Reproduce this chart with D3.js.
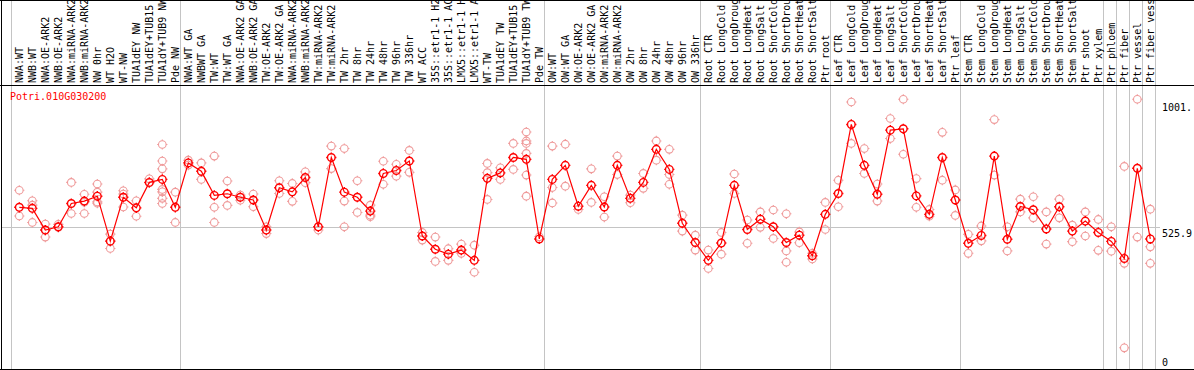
<!DOCTYPE html>
<html>
<head>
<meta charset="utf-8">
<script src="https://cdnjs.cloudflare.com/ajax/libs/d3/7.8.5/d3.min.js"></script>
<style>
body { margin: 0; background: #fff; }
#chart svg { display: block; }
.sampleLabel, .tickLabel, .geneTitle { font-family: "DejaVu Sans Mono", monospace; font-size: 10px; }
.sampleLabel, .tickLabel { fill: #000; }
.geneTitle { fill: #f00; }
.groupLine, .refLine { stroke: #c4c4c4; stroke-width: 1; }
.frame { stroke: #000; stroke-width: 1; }
.meanLine { fill: none; stroke: #f00; stroke-width: 1.2; }
.mean { fill: none; stroke: #f00; stroke-width: 1.4; }
.rep { fill: none; stroke: #ef9a9a; stroke-width: 1.1; }
</style>
</head>
<body>
<div id="chart"></div>
<script>
var geneId = "Potri.010G030200";

var sampleLabels = [
    "NWA:WT", "NWB:WT", "NWA:OE-ARK2", "NWB:OE-ARK2", "NWA:miRNA-ARK2", "NWB:miRNA-ARK2",
    "NW 0hr", "WT H2O", "WT-NW", "TUA1dEY NW", "TUA1dEY+TUB15 NW", "TUA1dY+TUB9 NW", "Pde NW",
    "NWA:WT GA", "NWBWT GA", "TW:WT", "TW:WT GA", "NWA:OE-ARK2 GA", "NWB:OE-ARK2 GA",
    "TW:OE-ARK2", "TW:OE-ARK2 GA", "NWA:miRNA-ARK2 GA", "NWB:miRNA-ARK2 GA", "TW:miRNA-ARK2",
    "TW:miRNA-ARK2 GA", "TW 2hr", "TW 8hr", "TW 24hr", "TW 48hr", "TW 96hr", "TW 336hr", "WT ACC",
    "35S::etr1-1 H2O", "35S::etr1-1 ACC", "LMX5::etr1-1 H2O", "LMX5::etr1-1 ACC", "WT-TW",
    "TUA1dEY TW", "TUA1dEY+TUB15 TW", "TUA1dY+TUB9 TW", "Pde TW",
    "OW:WT", "OW:WT GA", "OW:OE-ARK2", "OW:OE-ARK2 GA", "OW:miRNA-ARK2", "OW:miRNA-ARK2 GA",
    "OW 2hr", "OW 8hr", "OW 24hr", "OW 48hr", "OW 96hr", "OW 336hr",
    "Root CTR", "Root LongCold", "Root LongDrought", "Root LongHeat", "Root LongSalt",
    "Root ShortCold", "Root ShortDrought", "Root ShortHeat", "Root ShortSalt", "Ptr root",
    "Leaf CTR", "Leaf LongCold", "Leaf LongDrought", "Leaf LongHeat", "Leaf LongSalt",
    "Leaf ShortCold", "Leaf ShortDrought", "Leaf ShortHeat", "Leaf ShortSalt", "Ptr leaf",
    "Stem CTR", "Stem LongCold", "Stem LongDrought", "Stem LongHeat", "Stem LongSalt",
    "Stem ShortCold", "Stem ShortDrought", "Stem ShortHeat", "Stem ShortSalt", "Ptr shoot", "Ptr xylem",
    "Ptr phloem", "Ptr fiber", "Ptr vessel", "Ptr fiber vessel"
];

// index of the first sample of each group (last entry = end)
var groupBreaks = [0, 13, 41, 53, 63, 73, 84, 85, 86, 87, 88];

var meanValues = [
    601, 597, 517, 529, 615, 624, 642, 476, 638, 599, 693, 704, 601,
    765, 734, 645, 651, 638, 628, 517, 673, 658, 711, 529, 785, 657, 638, 587, 726, 737, 772,
    495, 446, 428, 443, 405, 708, 728, 785, 778, 484,
    704, 756, 605, 682, 602, 756, 634, 693, 815, 741, 542, 471,
    405, 469, 682, 519, 557, 529, 471, 498, 422, 575,
    652, 907, 756, 649, 886, 891, 643, 575, 785, 628,
    468, 497, 790, 483, 604, 592, 521, 603, 513, 550, 508,
    475, 412, 745, 484
];

var replicateValues = [
    [664, 569], [625, 609, 545], [539, 517, 491], [538, 527], [693, 578], [649, 578, 620],
    [687, 657, 621, 616], [502, 449, 476], [662, 602, 650], [625, 568], [706, 691],
    [833, 772, 743, 667, 658, 634, 615], [657, 545],
    [775, 757], [765, 704], [790, 601, 545], [698, 608], [646, 627], [650, 603], [529, 504],
    [699, 652], [689, 623], [732, 692], [517], [827, 744], [818, 624, 529], [699, 582],
    [609, 572, 566], [771, 686], [760, 716], [811, 730], [508, 480], [491, 401], [448, 405],
    [465, 431], [461, 361], [763, 729, 630], [747, 704], [837, 741],
    [879, 846, 837, 800, 720, 642], [492],
    [827, 674, 617], [834, 679], [593], [743, 619], [640, 565], [790, 722], [646, 618],
    [726, 671], [846, 775], [815, 722, 686], [572, 513], [498, 443],
    [443, 375], [508, 428], [724, 652], [554, 468], [584, 527], [591, 486], [577, 440, 398],
    [510, 470], [431, 410], [619, 519],
    [701, 603], [990, 837], [818, 726], [687, 624], [929, 855], [1000, 797], [707, 601],
    [593, 568], [878, 701], [665, 571],
    [501, 431], [532, 477], [925, 720], [529, 440], [631, 584], [640, 562], [584, 465],
    [631, 562], [535, 474], [584, 495], [556, 442],
    [529, 439], [752, 394, 82], [1000, 491], [594, 455, 394]
];

var tickValues = [1001, 525.9, 0];
var tickLabels = ["1001.", "525.9", "0"];
var refValue = 525.9;

/**
 * Constructor for the expression profile chart
 */
function ExpressionChart(){
    var self = this;
    self.init();
};

ExpressionChart.prototype.init = function(){
    var self = this;
    self.width = 1194;
    self.height = 370;
    self.headerHeight = 85;

    self.svg = d3.select("#chart").append("svg")
        .attr("width", self.width)
        .attr("height", self.height);

    // one 13px column per sample
    self.xScale = d3.scaleBand()
        .domain(d3.range(sampleLabels.length))
        .range([11, 11 + 13 * sampleLabels.length]);
    self.pointOffset = 8.3;

    self.yScale = d3.scaleLinear().domain([0, 1001]).range([370, 99]);
};

ExpressionChart.prototype.xPos = function(i){
    var self = this;
    return self.xScale(i) + self.pointOffset;
};

// little circle with the four tiny spikes of the original renderer
ExpressionChart.prototype.marker = function(g, cx, cy, cls){
    var r = 3.8;
    g.append("circle").attr("class", cls)
        .attr("cx", cx).attr("cy", cy).attr("r", r);
    g.append("path").attr("class", cls)
        .attr("d", "M" + cx + "," + (cy - r - 1.3) + "v1.3" +
                   "M" + cx + "," + (cy + r) + "v1.3" +
                   "M" + (cx - r - 1.3) + "," + cy + "h1.3" +
                   "M" + (cx + r) + "," + cy + "h1.3");
};

ExpressionChart.prototype.update = function(){
    var self = this;
    var svg = self.svg;

    //vertical group separators, full height
    var breakX = groupBreaks.map(function(b){
        var x = b < sampleLabels.length ? self.xScale(b) : self.xScale.range()[1];
        return Math.floor(x) + 0.5;
    });
    svg.selectAll(".groupLine").data(breakX).enter()
        .append("line").attr("class", "groupLine")
        .attr("x1", d => d).attr("x2", d => d)
        .attr("y1", 0).attr("y2", self.height);

    //reference line
    var yRef = Math.floor(self.yScale(refValue)) + 0.5;
    svg.append("line").attr("class", "refLine")
        .attr("x1", 1).attr("x2", 1160)
        .attr("y1", yRef).attr("y2", yRef);

    //frame
    svg.append("line").attr("class", "frame")
        .attr("x1", 0).attr("x2", self.width).attr("y1", 0.5).attr("y2", 0.5);
    svg.append("line").attr("class", "frame")
        .attr("x1", 0).attr("x2", self.width)
        .attr("y1", self.headerHeight + 0.5).attr("y2", self.headerHeight + 0.5);
    svg.append("line").attr("class", "frame")
        .attr("x1", 0).attr("x2", self.width)
        .attr("y1", self.height - 0.5).attr("y2", self.height - 0.5);
    svg.append("line").attr("class", "frame")
        .attr("x1", 1.5).attr("x2", 1.5).attr("y1", 0).attr("y2", self.height);

    //rotated sample names in the header
    svg.append("g").selectAll("text").data(sampleLabels).enter()
        .append("text").attr("class", "sampleLabel")
        .attr("transform", (d, i) => "translate(" + (self.xPos(i) + 3.7) + "," + 83 + ") rotate(-90)")
        .text(d => d);

    //gene id
    svg.append("text").attr("class", "geneTitle")
        .attr("x", 10).attr("y", 100)
        .text(geneId);

    //value labels on the right
    svg.selectAll(".tickLabel").data(tickValues).enter()
        .append("text").attr("class", "tickLabel")
        .attr("x", 1162)
        .attr("y", function(d, i){
            if (i == 0) return self.yScale(d) + 11.5;
            if (d == 0) return self.yScale(d) - 4.5;
            return self.yScale(d) + 9;
        })
        .text((d, i) => tickLabels[i]);

    //replicates
    var gRep = svg.append("g");
    replicateValues.forEach(function(reps, i){
        reps.forEach(function(v){
            self.marker(gRep, self.xPos(i), self.yScale(v), "rep");
        });
    });

    //mean line
    var line = d3.line()
        .x((d, i) => self.xPos(i))
        .y(d => self.yScale(d));
    svg.append("path").attr("class", "meanLine")
        .attr("d", line(meanValues));

    var gMean = svg.append("g");
    meanValues.forEach(function(v, i){
        self.marker(gMean, self.xPos(i), self.yScale(v), "mean");
    });
};

var chart = new ExpressionChart();
chart.update();
</script>
</body>
</html>
